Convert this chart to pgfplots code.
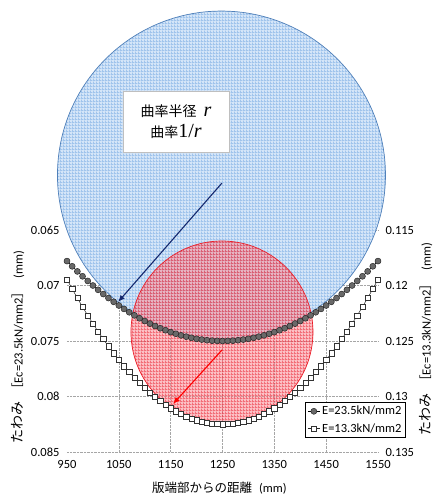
\documentclass[border=0pt]{standalone}
\usepackage{pgfplots}
\pgfplotsset{compat=1.18}
\usepackage{pgfplotstable}
\usepackage{fontspec}
\usetikzlibrary{arrows.meta,patterns}
\setmainfont{Carlito}
\newfontfamily\jp{Noto Sans CJK JP}
\newfontfamily\tms{Liberation Serif}
\newcommand\lab{\fontsize{12.5}{14}\selectfont}

\definecolor{bluebase}{RGB}{212,229,248}
\definecolor{blueline}{RGB}{160,196,236}
\definecolor{blueedge}{RGB}{80,128,185}
\definecolor{redbase}{RGB}{250,130,140}
\definecolor{redline}{RGB}{232,30,45}
\definecolor{rededge}{RGB}{235,30,40}
\definecolor{markgray}{RGB}{105,105,105}
\definecolor{navyarrow}{RGB}{20,40,110}

% fine grid hatching used for the two curvature circles
\pgfdeclarepatternformonly{finegrid}{\pgfqpoint{0pt}{0pt}}{\pgfqpoint{3pt}{3pt}}{\pgfqpoint{3pt}{3pt}}{%
  \pgfpathrectangle{\pgfqpoint{0pt}{0pt}}{\pgfqpoint{3pt}{1pt}}%
  \pgfpathrectangle{\pgfqpoint{0pt}{0pt}}{\pgfqpoint{1pt}{3pt}}%
  \pgfusepath{fill}%
}

% deflection, Ec = 23.5 kN/mm2 (left axis)
\pgfplotstableread{
x y
950 0.06780
960 0.06827
970 0.06873
980 0.06917
990 0.06959
1000 0.07000
1010 0.07039
1020 0.07077
1030 0.07113
1040 0.07147
1050 0.07180
1060 0.07211
1070 0.07241
1080 0.07269
1090 0.07295
1100 0.07320
1110 0.07343
1120 0.07365
1130 0.07385
1140 0.07403
1150 0.07420
1160 0.07435
1170 0.07449
1180 0.07461
1190 0.07471
1200 0.07480
1210 0.07487
1220 0.07493
1230 0.07497
1240 0.07499
1250 0.07500
1260 0.07499
1270 0.07497
1280 0.07493
1290 0.07487
1300 0.07480
1310 0.07471
1320 0.07461
1330 0.07449
1340 0.07435
1350 0.07420
1360 0.07403
1370 0.07385
1380 0.07365
1390 0.07343
1400 0.07320
1410 0.07295
1420 0.07269
1430 0.07241
1440 0.07211
1450 0.07180
1460 0.07147
1470 0.07113
1480 0.07077
1490 0.07039
1500 0.07000
1510 0.06959
1520 0.06917
1530 0.06873
1540 0.06827
1550 0.06780
}\hardtable

% deflection, Ec = 13.3 kN/mm2 (right axis)
\pgfplotstableread{
x y
950 0.11945
960 0.12031
970 0.12113
980 0.12193
990 0.12270
1000 0.12344
1010 0.12415
1020 0.12483
1030 0.12548
1040 0.12611
1050 0.12670
1060 0.12727
1070 0.12780
1080 0.12831
1090 0.12879
1100 0.12924
1110 0.12966
1120 0.13005
1130 0.13041
1140 0.13075
1150 0.13105
1160 0.13133
1170 0.13157
1180 0.13179
1190 0.13198
1200 0.13214
1210 0.13227
1220 0.13237
1230 0.13244
1240 0.13249
1250 0.13250
1260 0.13249
1270 0.13244
1280 0.13237
1290 0.13227
1300 0.13214
1310 0.13198
1320 0.13179
1330 0.13157
1340 0.13133
1350 0.13105
1360 0.13075
1370 0.13041
1380 0.13005
1390 0.12966
1400 0.12924
1410 0.12879
1420 0.12831
1430 0.12780
1440 0.12727
1450 0.12670
1460 0.12611
1470 0.12548
1480 0.12483
1490 0.12415
1500 0.12344
1510 0.12270
1520 0.12193
1530 0.12113
1540 0.12031
1550 0.11945
}\softtable

\pgfplotsset{
  hardstyle/.style={black, line width=0.6pt, mark=*, mark size=3pt,
    mark options={fill=markgray, draw=black!85, line width=0.5pt, solid}},
  softstyle/.style={black!85, line width=0.5pt, mark=square*, mark size=2.6pt,
    mark options={fill=white, draw=black!80, line width=0.5pt, solid}},
  common/.style={
    at={(67pt,43pt)}, anchor=south west,
    scale only axis, width=311pt, height=222pt,
    xmin=950, xmax=1550, y dir=reverse,
    major tick length=0pt,
    tick label style={font=\lab},
    /pgf/number format/assume math mode=true,
    /pgf/number format/1000 sep={},
    clip=false,
  },
}

\begin{document}
\begin{tikzpicture}
\path[use as bounding box] (0pt,0pt) rectangle (434pt,495pt);

\begin{axis}[common,
  ymin=0.065, ymax=0.085,
  axis line style={draw=none},
  xtick={1050,1150,1250,1350,1450},
  extra x ticks={950,1550}, extra x tick style={grid=none},
  ytick={0.065,0.07,0.075,0.08,0.085},
  yticklabels={0.065,0.07,0.075,0.08,0.085},
  yticklabel style={xshift=-4pt},
  xticklabel style={yshift=-5pt},
  grid=major,
  major grid style={densely dotted, black!35, line width=0.6pt},
  xlabel={{\jp 版端部からの距離}\hspace{7pt}(mm)},
  every axis x label/.style={at={(axis description cs:0.49,-0.162)}, anchor=center, font=\lab},
  ylabel={{\jp\fontsize{14}{16}\selectfont たわみ}\hspace{6pt}{\jp ［}Ec=23.5kN/mm2{\jp ］}\hspace{8pt}(mm)},
  every axis y label/.style={at={(axis description cs:-0.158,0.473)}, rotate=90, anchor=center, font=\lab},
]
% radius of curvature, Ec = 23.5
\fill[bluebase] (axis cs:1248,0.06005) circle[radius=164pt];
\fill[pattern=finegrid, pattern color=blueline] (axis cs:1248,0.06005) circle[radius=164pt];
\draw[blueedge, line width=0.7pt] (axis cs:1248,0.06005) circle[radius=164pt];
% radius of curvature, Ec = 13.3
\begin{scope}[fill opacity=0.5]
\fill[redbase] (axis cs:1249,0.07419) circle[radius=91pt];
\fill[pattern=finegrid, pattern color=redline] (axis cs:1249,0.07419) circle[radius=91pt];
\end{scope}
\draw[rededge, line width=0.7pt] (axis cs:1249,0.07419) circle[radius=91pt];

\addplot[hardstyle] table {\hardtable};

\draw[navyarrow, line width=1.1pt, -{Latex[length=7pt,width=5.5pt]}]
  (axis cs:1249,0.06077) -- (axis cs:1048.4,0.07149);
\draw[red, line width=1.1pt, -{Latex[length=7pt,width=5.5pt]}]
  (axis cs:1249,0.07581) -- (axis cs:1154.5,0.08068);

\node[draw=black!25, fill=white, line width=0.9pt, minimum width=106pt, minimum height=61pt,
      align=center, inner sep=0pt] at (axis cs:1160.3,0.05523)
  {{\jp\fontsize{14}{16}\selectfont 曲率半径}\hspace{7pt}{\tms\itshape\fontsize{20}{20}\selectfont r}\\[6pt]
   {\jp\fontsize{14}{16}\selectfont 曲率}{\tms\fontsize{20}{20}\selectfont 1/\itshape r}};
\end{axis}

\begin{axis}[common,
  ymin=0.115, ymax=0.135,
  axis x line=none, axis y line*=right,
  y axis line style={draw=none},
  xtick=\empty,
  ytick={0.115,0.12,0.125,0.13,0.135},
  yticklabels={0.115,0.12,0.125,0.13,0.135},
  yticklabel style={xshift=4pt},
  ylabel={{\jp\fontsize{14}{16}\selectfont たわみ}\hspace{6pt}{\jp ［}Ec=13.3kN/mm2{\jp ］}\hspace{8pt}(mm)},
  every axis y label/.style={at={(axis description cs:1.154,0.509)}, rotate=90, anchor=center, font=\lab},
  legend style={at={(axis description cs:1.09,0.063)}, anchor=south east,
    draw=black, line width=0.9pt, fill=white, font=\lab,
    inner xsep=2pt, inner ysep=2pt, row sep=3pt},
  legend cell align=left,
  legend image code/.code={%
    \draw[mark repeat=2, mark phase=2, #1] plot coordinates {(0pt,0pt) (6pt,0pt) (12pt,0pt)};},
]
\addlegendimage{hardstyle}
\addlegendentry{E=23.5kN/mm2}
\addplot[softstyle] table {\softtable};
\addlegendentry{E=13.3kN/mm2}
\end{axis}
\end{tikzpicture}
\end{document}
